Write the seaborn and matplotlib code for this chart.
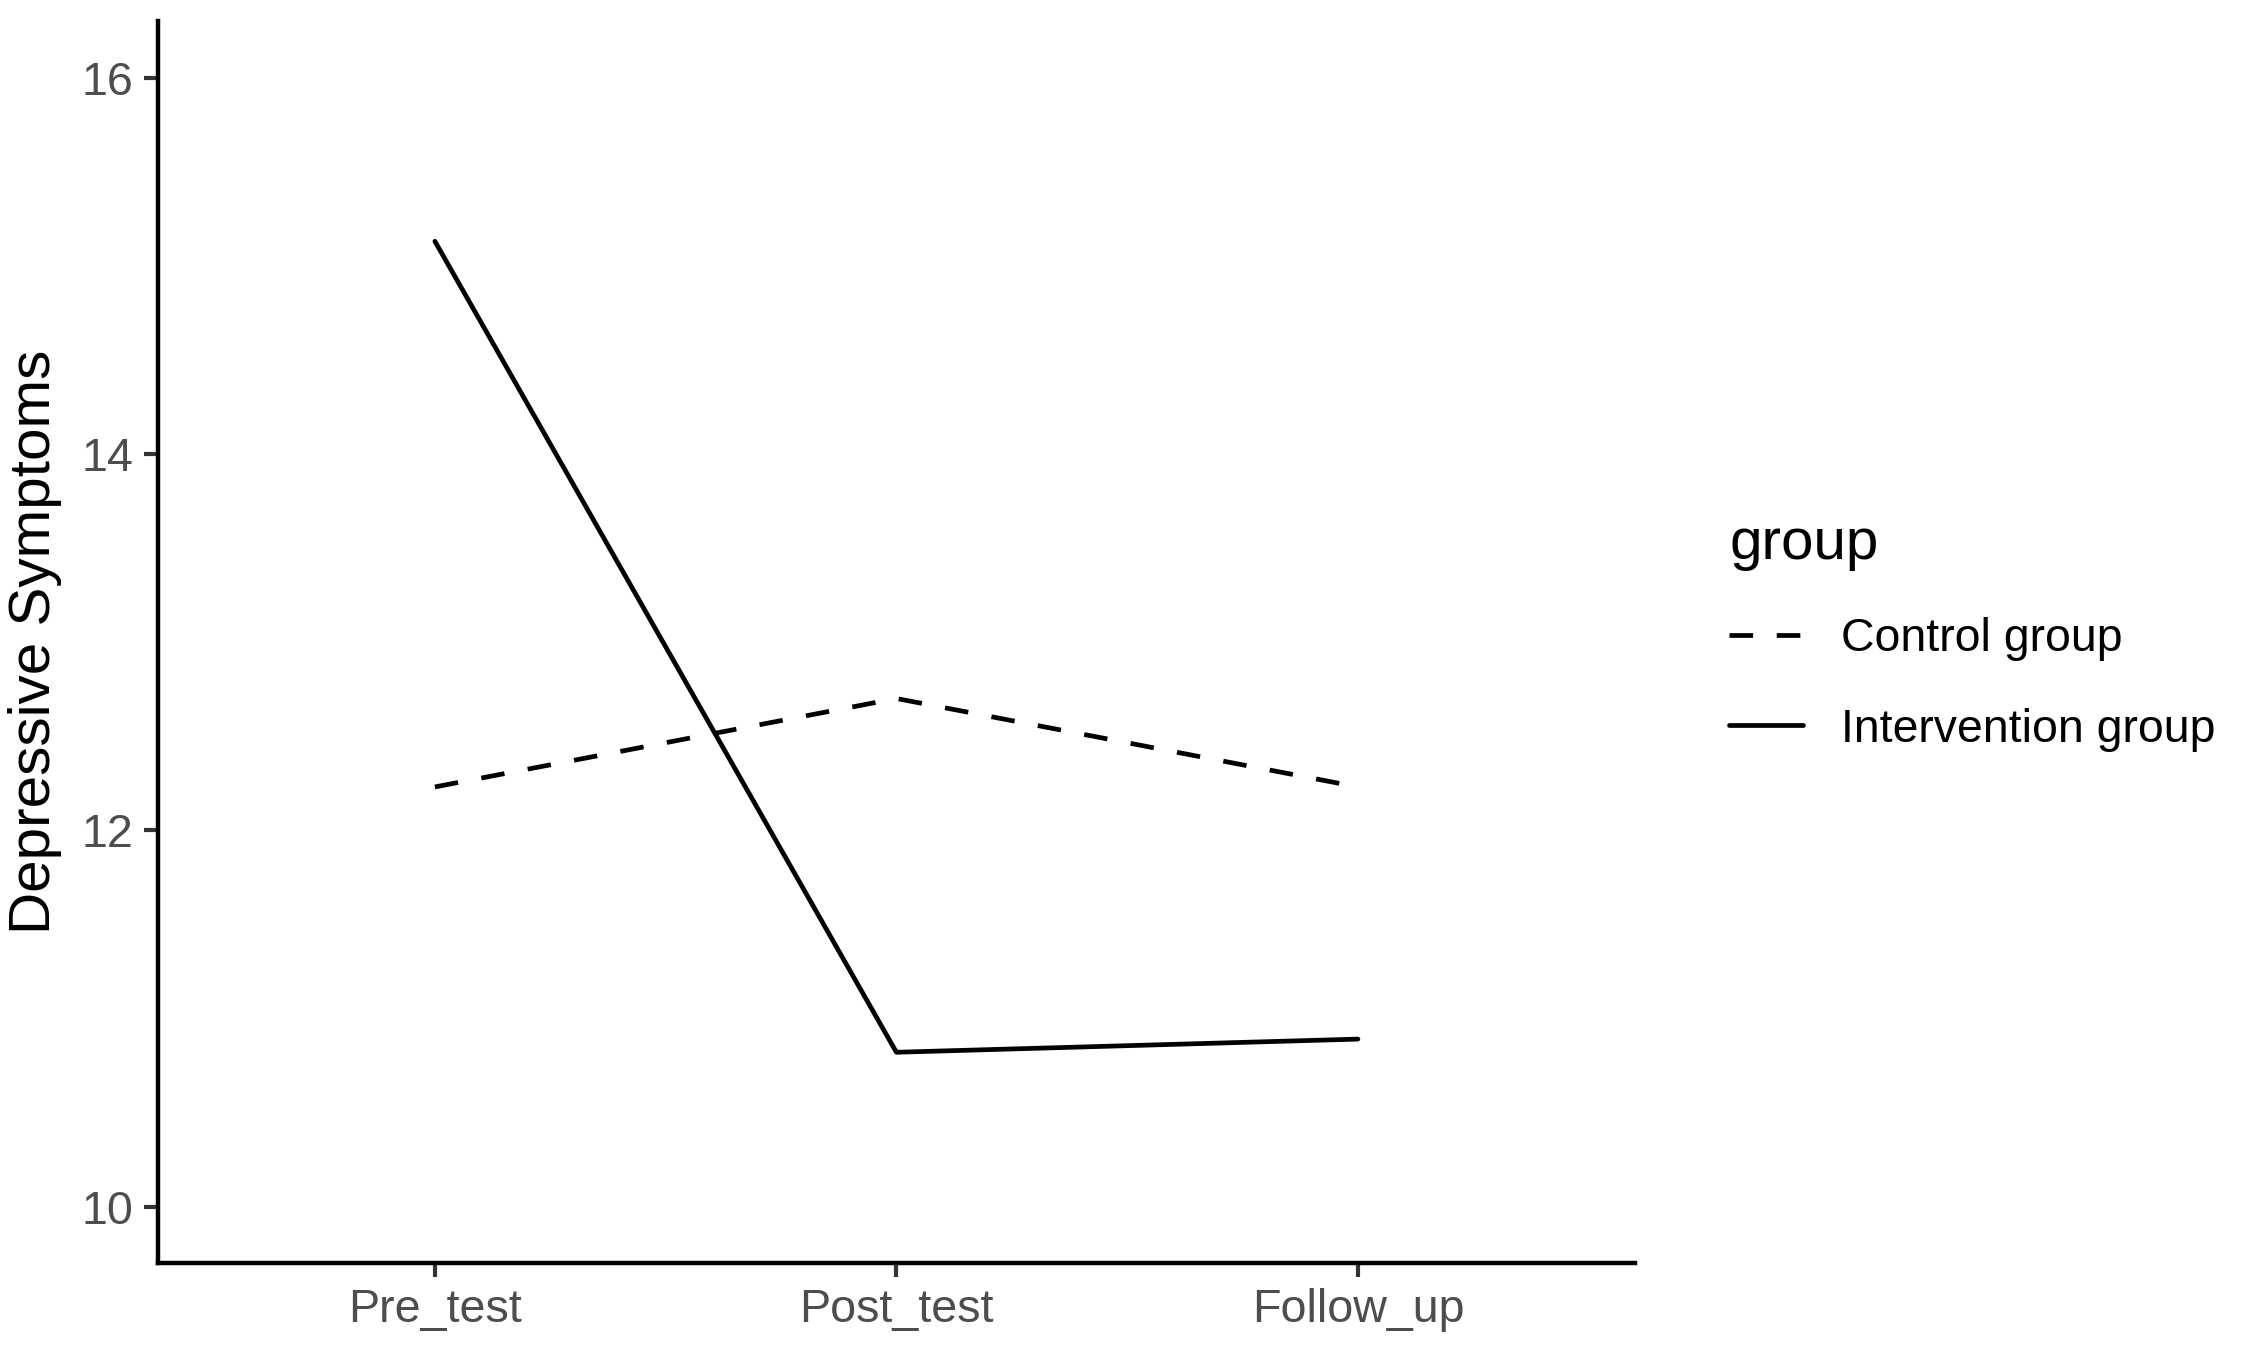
import pandas as pd
import numpy as np
import matplotlib
matplotlib.use("Agg")
import matplotlib.pyplot as plt
import seaborn as sns

# mean depressive symptom scores
times = ["Pre_test", "Post_test", "Follow_up"]
groups = ["Control group", "Intervention group"]
control = [12.23, 12.70, 12.23]
intervention = [15.13, 10.82, 10.89]

df = pd.DataFrame({
    "time": times * 2,
    "score": control + intervention,
    "group": [groups[0]] * 3 + [groups[1]] * 3,
})
df["time"] = pd.Categorical(df["time"], categories=times, ordered=True)
df["x"] = df["time"].cat.codes

sns.set_theme(style="ticks")
plt.rcParams["font.family"] = ["Liberation Sans", "DejaVu Sans"]

fig = plt.figure(figsize=(11.205, 6.805), dpi=200)
ax = fig.add_axes([0.0705, 0.072, 0.659, 0.9125])

sns.lineplot(data=df, x="x", y="score", style="group", style_order=groups,
             dashes={groups[0]: (5, 5), groups[1]: ""},
             color="black", linewidth=1.7, sort=False, ax=ax)

ax.set_xlim(-0.6, 2.6)
ax.set_ylim(9.7, 16.3)
ax.set_xticks(range(len(times)))
ax.set_xticklabels(times)
ax.set_yticks([10, 12, 14, 16])
ax.set_xlabel("")
ax.set_ylabel("Depressive Symptoms", fontsize=21, color="black", labelpad=7)
ax.tick_params(axis="both", labelsize=16.8, labelcolor="#4D4D4D", color="#333333",
               length=5, width=1.5, pad=4)
for side in ["top", "right"]:
    ax.spines[side].set_visible(False)
for side in ["left", "bottom"]:
    ax.spines[side].set_linewidth(1.6)
    ax.spines[side].set_color("black")

handles, labels = ax.get_legend_handles_labels()
leg = ax.legend(handles, labels, title="group", loc="upper left",
                bbox_to_anchor=(0.753, 0.651), bbox_transform=fig.transFigure,
                frameon=False, fontsize=16.7, title_fontsize=21,
                handlelength=1.6, handletextpad=0.8, labelspacing=1.0,
                alignment="left", labelcolor="black")
leg.get_title().set_color("black")
for line in leg.get_lines():
    line.set_linewidth(1.7)

fig.savefig("out.png", dpi=200, facecolor="white")
